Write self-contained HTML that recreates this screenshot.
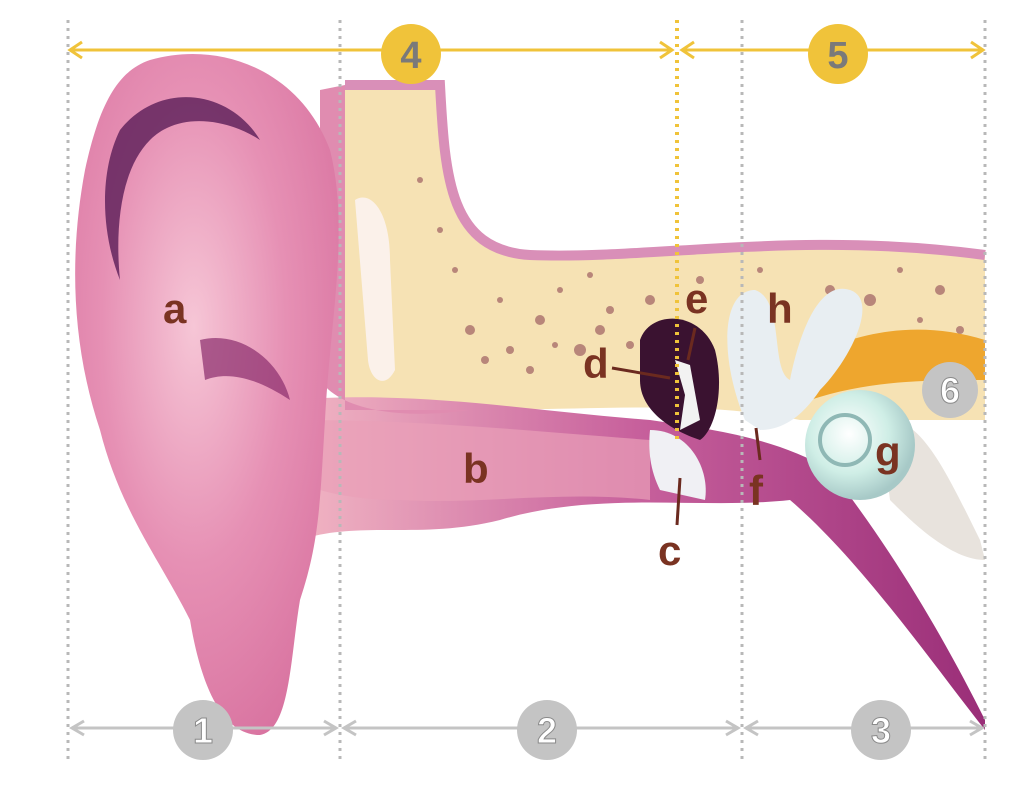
<!DOCTYPE html>
<html><head><meta charset="utf-8"><style>
html,body{margin:0;padding:0;background:#fff;}
svg{display:block}
</style></head><body>
<svg width="1020" height="790" viewBox="0 0 1020 790" xmlns="http://www.w3.org/2000/svg" font-family="Liberation Sans, sans-serif" font-weight="bold">
<defs>
<radialGradient id="pin" cx="0.45" cy="0.4" r="0.7">
<stop offset="0" stop-color="#f6c6d6"/><stop offset="0.5" stop-color="#e690b4"/><stop offset="1" stop-color="#d7709e"/>
</radialGradient>
<linearGradient id="can" x1="0" y1="0" x2="1" y2="0">
<stop offset="0" stop-color="#f2b7c4"/><stop offset="0.5" stop-color="#c7609c"/><stop offset="1" stop-color="#9a2e78"/>
</linearGradient>
<radialGradient id="coch" cx="0.4" cy="0.4" r="0.6"><stop offset="0" stop-color="#ffffff"/><stop offset="0.6" stop-color="#cfeee6"/><stop offset="1" stop-color="#a7c9c7"/></radialGradient>
</defs>
<path d="M345 85 L440 85 C445 180 450 250 530 255 C650 260 800 230 985 255 L985 420 L800 420 C700 400 600 410 470 410 L345 410 Z" fill="#f6e2b4"/>
<path d="M345 85 L440 85 C445 180 450 250 530 255 C650 260 800 230 985 255" fill="none" stroke="#d98fb8" stroke-width="10"/>
<g fill="#b8867a">
<circle cx="470" cy="330" r="5"/><circle cx="510" cy="350" r="4"/><circle cx="540" cy="320" r="5"/><circle cx="580" cy="350" r="6"/><circle cx="610" cy="310" r="4"/><circle cx="500" cy="300" r="3"/><circle cx="440" cy="230" r="3"/><circle cx="420" cy="180" r="3"/><circle cx="560" cy="290" r="3"/><circle cx="830" cy="290" r="5"/><circle cx="870" cy="300" r="6"/><circle cx="940" cy="290" r="5"/><circle cx="900" cy="270" r="3"/><circle cx="960" cy="330" r="4"/><circle cx="650" cy="300" r="5"/>
<circle cx="485" cy="360" r="4"/><circle cx="530" cy="370" r="4"/><circle cx="600" cy="330" r="5"/><circle cx="630" cy="345" r="4"/><circle cx="455" cy="270" r="3"/><circle cx="590" cy="275" r="3"/><circle cx="700" cy="280" r="4"/><circle cx="760" cy="270" r="3"/><circle cx="920" cy="320" r="3"/><circle cx="555" cy="345" r="3"/>
</g>
<path d="M290 400 C420 390 520 410 650 420 C720 430 780 440 830 470 C900 560 950 650 985 720 L985 730 C930 660 860 560 790 500 C700 510 600 490 500 520 C420 540 360 520 300 540 Z" fill="url(#can)"/>
<path d="M300 420 C420 420 520 430 650 440 L650 500 C560 490 480 505 400 500 C350 500 310 490 300 480 Z" fill="#e9a0b8" opacity="0.7"/>
<path d="M320 90 L345 85 L345 410 L470 410 C400 420 340 410 320 380 Z" fill="#e08cb0"/>
<path d="M355 200 C370 190 390 210 390 260 L395 370 C385 390 370 380 368 360 Z" fill="#fbf1ea"/>
<path d="M150 60 C220 40 300 70 330 150 C350 230 330 320 325 420 C320 500 320 540 300 600 C290 660 290 730 260 735 C220 735 200 680 190 620 C160 560 120 510 100 430 C70 340 70 250 85 170 C100 100 120 70 150 60 Z" fill="url(#pin)"/>
<path d="M120 130 C160 80 230 90 260 140 C230 120 180 110 150 140 C120 170 115 230 120 280 C100 230 100 170 120 130 Z" fill="#5a1d57" opacity="0.8"/>
<path d="M200 340 C240 330 280 360 290 400 C260 380 230 370 205 380 Z" fill="#8a2c6c" opacity="0.7"/>
<path d="M640 340 C650 310 700 310 715 350 C725 390 715 430 700 440 C670 430 640 410 640 380 Z" fill="#3a1230"/>
<path d="M650 430 C690 430 710 470 705 500 L660 490 C650 470 648 450 650 430 Z" fill="#f0f0f4"/>
<path d="M675 360 L690 365 L700 420 L680 430 L685 395 Z" fill="#f2f2f2"/>
<path d="M800 360 C860 330 920 320 985 340 L985 380 C930 380 870 380 810 400 Z" fill="#eea62e"/>
<path d="M745 420 C720 360 720 290 755 290 C785 300 770 370 790 380 C800 330 820 280 850 290 C880 300 850 360 820 390 C800 420 780 430 760 430 Z" fill="#e8eef2"/>
<path d="M880 420 C920 410 950 480 980 540 L985 560 C950 560 910 520 890 500 Z" fill="#e8e3dd"/>
<circle cx="860" cy="445" r="55" fill="url(#coch)"/>
<circle cx="845" cy="440" r="25" fill="none" stroke="#8fb8b5" stroke-width="4"/>
<g stroke="#6b2a1f" stroke-width="3">
<line x1="612" y1="368" x2="670" y2="378"/><line x1="695" y1="328" x2="688" y2="360"/><line x1="680" y1="478" x2="677" y2="525"/><line x1="756" y1="428" x2="760" y2="460"/>
</g>
<g fill="#7a3322" font-size="42" font-weight="bold">
<text x="163" y="323">a</text><text x="463" y="483">b</text><text x="658" y="565">c</text><text x="583" y="378">d</text><text x="685" y="313">e</text><text x="749" y="505">f</text><text x="875" y="466">g</text><text x="767" y="323">h</text>
</g>
<g stroke="#b8b8b8" stroke-width="3" stroke-dasharray="3 5">
<line x1="68" y1="20" x2="68" y2="760"/><line x1="340" y1="20" x2="340" y2="760"/><line x1="742" y1="20" x2="742" y2="760"/><line x1="985" y1="20" x2="985" y2="760"/>
</g>
<line x1="677" y1="20" x2="677" y2="440" stroke="#f0c33a" stroke-width="4" stroke-dasharray="3 5"/>
<g stroke="#f0c33a" stroke-width="3" fill="none">
<line x1="70" y1="50" x2="672" y2="50"/><line x1="682" y1="50" x2="983" y2="50"/>
<polyline points="82,42 70,50 82,58"/><polyline points="660,42 672,50 660,58"/><polyline points="694,42 682,50 694,58"/><polyline points="971,42 983,50 971,58"/>
</g>
<circle cx="411" cy="54" r="30" fill="#f0c33a"/><circle cx="838" cy="54" r="30" fill="#f0c33a"/>
<g stroke="#c4c4c4" stroke-width="3" fill="none">
<line x1="72" y1="728" x2="336" y2="728"/><line x1="344" y1="728" x2="738" y2="728"/><line x1="746" y1="728" x2="982" y2="728"/>
<polyline points="84,721 72,728 84,735"/><polyline points="324,721 336,728 324,735"/><polyline points="356,721 344,728 356,735"/><polyline points="726,721 738,728 726,735"/><polyline points="758,721 746,728 758,735"/><polyline points="970,721 982,728 970,735"/>
</g>
<g fill="#c4c4c4"><circle cx="203" cy="730" r="30"/><circle cx="547" cy="730" r="30"/><circle cx="881" cy="730" r="30"/><circle cx="950" cy="390" r="28"/></g>
<g fill="#7a7a7a" font-size="38" text-anchor="middle" font-weight="bold">
<text x="411" y="68">4</text><text x="838" y="68">5</text>
</g>
<g fill="#fff" font-size="36" text-anchor="middle" stroke="#8a8a8a" stroke-width="1" font-weight="bold">
<text x="203" y="743">1</text><text x="547" y="743">2</text><text x="881" y="743">3</text><text x="950" y="403">6</text>
</g>
</svg>
</body></html>
